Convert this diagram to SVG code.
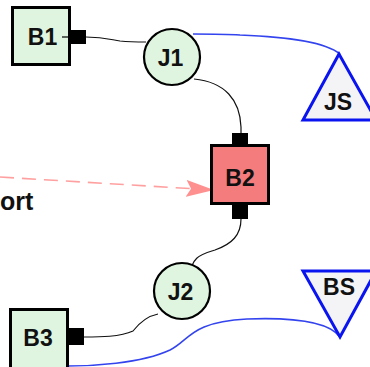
<svg xmlns="http://www.w3.org/2000/svg" width="370" height="367" viewBox="0 0 370 367">
<defs>
<style>
.box{stroke:#000;stroke-width:3}
.green{fill:#dff5df}
.port{fill:#000}
.jn{fill:#dff5df;stroke:#000;stroke-width:2.2}
.tri{fill:#f4f4f6;stroke:#0a14f0;stroke-width:3;stroke-linejoin:miter}
.lbl{font-family:"Liberation Sans",Arial,sans-serif;font-weight:bold;font-size:23px;fill:#111;text-anchor:middle}
.wire{fill:none;stroke:#111;stroke-width:1.2}
.blue{fill:none;stroke:#3344ee;stroke-width:1.6}
</style>
<marker id="pinkArrow" markerWidth="28" markerHeight="17" refX="27" refY="8.5" orient="auto" markerUnits="userSpaceOnUse" viewBox="0 0 28 17">
<path d="M0,0 L28,8.5 L0,17 L5,8.5 Z" fill="#ff9090"/>
</marker>
</defs>
<rect width="370" height="367" fill="#fff"/>
<g id="connectors">
<path class="wire" d="M86,37 C105,37 112,40 120,41 C130,42 140,42 146,42"/>
<path class="blue" d="M193,34 C210,34 225,34 240,35 C290,37 325,42 340,54"/>
<path class="wire" d="M194,79 C225,82 240,100 241,127 L241,135"/>
<path class="wire" d="M241,219 C241,235 232,244 215,250 C198,255 192,258 189,277"/>
<path class="wire" d="M84,337 C100,337 120,337 133,331 C140,322 148,316 158,314"/>
<path class="blue" d="M68,366 C90,366 140,364 170,350 C190,340 190,322 247,319 C300,317 330,323 340,337"/>
<path d="M0,177 L213,190" fill="none" stroke="#ffa0a0" stroke-width="1.6" stroke-dasharray="14,8" marker-end="url(#pinkArrow)"/>
</g>
<g id="B1">
<rect class="box green" x="12.5" y="7.5" width="57" height="57"/>
<rect class="port" x="69" y="30" width="17" height="14"/>
<line x1="62" y1="37" x2="69" y2="37" stroke="#000" stroke-width="1.2"/>
<text class="lbl" x="42.5" y="45">B1</text>
</g>
<g id="J1">
<circle class="jn" cx="172" cy="57" r="28"/>
<text class="lbl" x="170.5" y="66">J1</text>
</g>
<g id="JS">
<polygon class="tri" points="339,54 303,120 376,120"/>
<text class="lbl" x="338" y="110">JS</text>
</g>
<g id="B2">
<rect class="port" x="232" y="133" width="16" height="13"/>
<rect class="port" x="232" y="203" width="16" height="16"/>
<rect class="box" x="211.5" y="145.5" width="57" height="58" fill="#f47c7c"/>
<text class="lbl" x="240" y="186">B2</text>
</g>
<g id="import">
<text x="0" y="210" font-family="'Liberation Sans',Arial,sans-serif" font-weight="bold" font-size="25" fill="#111">ort</text>
</g>
<g id="J2">
<circle class="jn" cx="182" cy="291" r="28"/>
<text class="lbl" x="180.5" y="300">J2</text>
</g>
<g id="BS">
<polygon class="tri" points="303,271 376,271 340,337"/>
<text class="lbl" x="339" y="295">BS</text>
</g>
<g id="B3">
<rect class="box green" x="10.5" y="309.5" width="57" height="60"/>
<rect class="port" x="68" y="328" width="16" height="17"/>
<text class="lbl" x="38" y="346">B3</text>
</g>
</svg>
